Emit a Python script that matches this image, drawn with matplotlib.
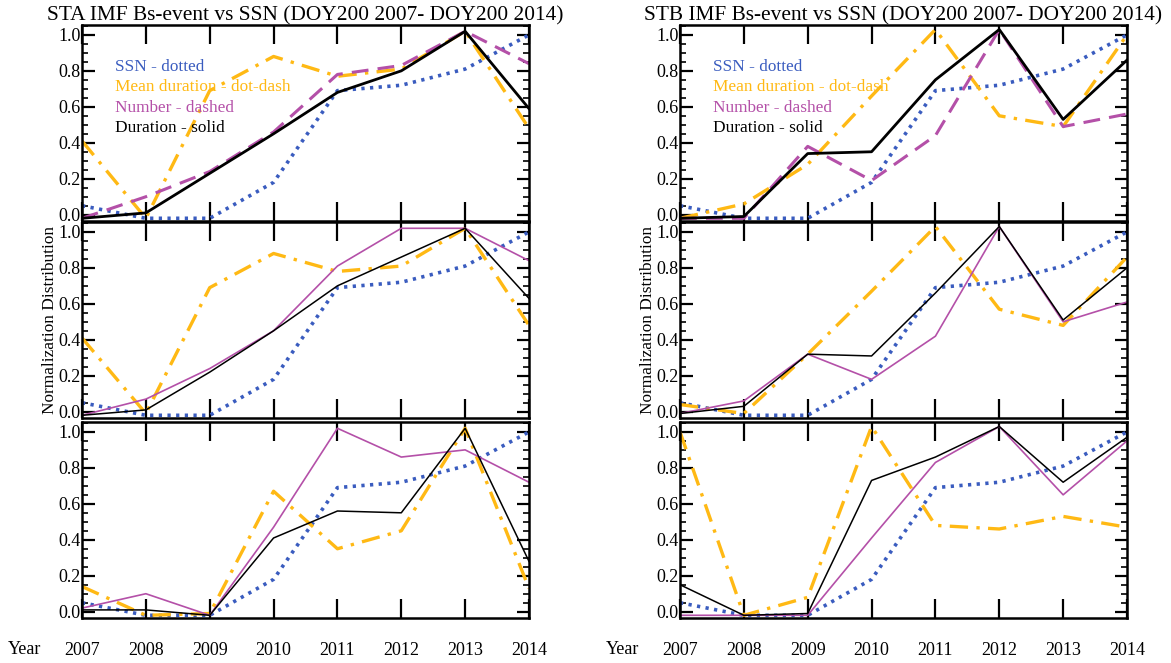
import numpy as np
import matplotlib.pyplot as plt
from matplotlib.ticker import MultipleLocator

plt.rcParams['font.family'] = ['Liberation Serif', 'DejaVu Serif']

years = [2007, 2008, 2009, 2010, 2011, 2012, 2013, 2014]
ssn = [0.05, -0.02, -0.02, 0.18, 0.69, 0.72, 0.81, 1.0]

# STA (left column), top to bottom
sta_mean_1 = [0.41, -0.02, 0.69, 0.88, 0.77, 0.81, 1.02, 0.48]
sta_num_1 = [-0.02, 0.10, 0.24, 0.46, 0.78, 0.83, 1.02, 0.84]
sta_dur_1 = [-0.02, 0.01, 0.23, 0.45, 0.68, 0.80, 1.02, 0.59]

sta_mean_2 = [0.41, -0.01, 0.69, 0.88, 0.78, 0.81, 1.02, 0.48]
sta_num_2 = [-0.02, 0.07, 0.24, 0.45, 0.81, 1.02, 1.02, 0.84]
sta_dur_2 = [-0.02, 0.01, 0.22, 0.45, 0.70, 0.86, 1.02, 0.63]

sta_mean_3 = [0.14, -0.02, -0.01, 0.67, 0.35, 0.45, 1.02, 0.13]
sta_num_3 = [0.02, 0.10, -0.02, 0.47, 1.02, 0.86, 0.90, 0.72]
sta_dur_3 = [0.01, 0.01, -0.02, 0.41, 0.56, 0.55, 1.02, 0.28]

# STB (right column), top to bottom
stb_mean_1 = [-0.02, 0.06, 0.28, 0.66, 1.03, 0.55, 0.49, 1.0]
stb_num_1 = [-0.02, -0.02, 0.38, 0.19, 0.44, 1.03, 0.49, 0.56]
stb_dur_1 = [-0.02, -0.01, 0.34, 0.35, 0.75, 1.03, 0.53, 0.86]

stb_mean_2 = [0.04, -0.01, 0.32, 0.67, 1.03, 0.57, 0.48, 0.86]
stb_num_2 = [-0.01, 0.06, 0.32, 0.18, 0.42, 1.03, 0.50, 0.61]
stb_dur_2 = [-0.01, 0.03, 0.32, 0.31, 0.66, 1.03, 0.51, 0.80]

stb_mean_3 = [1.0, -0.02, 0.08, 1.03, 0.48, 0.46, 0.53, 0.47]
stb_num_3 = [-0.02, -0.02, -0.02, 0.41, 0.83, 1.03, 0.65, 0.95]
stb_dur_3 = [0.15, -0.02, -0.01, 0.73, 0.86, 1.03, 0.72, 0.97]

titles = ['STA IMF Bs-event vs SSN (DOY200 2007- DOY200 2014)',
          'STB IMF Bs-event vs SSN (DOY200 2007- DOY200 2014)']
legend_lines = ['SSN - dotted', 'Mean duration - dot-dash',
                'Number - dashed', 'Duration - solid']

BLUE = '#3a5cbf'
ORANGE = '#ffb914'
MAGENTA = '#b450a8'

W, H = 1171, 663
fig = plt.figure(figsize=(W / 100, H / 100), dpi=100)

cols = [
    (82, [(sta_mean_1, sta_num_1, sta_dur_1),
          (sta_mean_2, sta_num_2, sta_dur_2),
          (sta_mean_3, sta_num_3, sta_dur_3)]),
    (680, [(stb_mean_1, stb_num_1, stb_dur_1),
           (stb_mean_2, stb_num_2, stb_dur_2),
           (stb_mean_3, stb_num_3, stb_dur_3)]),
]
tops = [25, 222, 422]
pw, ph = 447, 196

for c, (x0, panels) in enumerate(cols):
    for r, (mean_d, num, dur) in enumerate(panels):
        ax = fig.add_axes([x0 / W, 1 - (tops[r] + ph) / H, pw / W, ph / H])
        top = r == 0
        ax.plot(years, ssn, color=BLUE, lw=2.6, linestyle=(0, (0.9, 1.5)),
                dash_capstyle='butt')
        ax.plot(years, mean_d, color=ORANGE, lw=2.4,
                linestyle=(0, (5.5, 2.5, 1, 2.5)))
        if top:
            ax.plot(years, num, color=MAGENTA, lw=2.2, linestyle=(0, (5.5, 3)))
            ax.plot(years, dur, color='black', lw=2.0)
        else:
            ax.plot(years, num, color=MAGENTA, lw=1.2)
            ax.plot(years, dur, color='black', lw=1.1)

        ax.set_xlim(2007, 2014)
        ax.set_ylim(-0.035, 1.055)
        ax.set_xticks(years)
        ax.yaxis.set_major_locator(MultipleLocator(0.2))
        ax.yaxis.set_minor_locator(MultipleLocator(0.05))
        ax.set_yticklabels([f'{v:.1f}' for v in ax.get_yticks()])
        ax.tick_params(axis='x', which='major', direction='in', length=14,
                       width=1.6, top=True, labelbottom=(r == 2), pad=17,
                       labelsize=13)
        ax.tick_params(axis='y', which='major', direction='in', length=9,
                       width=1.6, right=True, labelsize=13, pad=1)
        ax.tick_params(axis='y', which='minor', direction='in', length=4.5,
                       width=1.2, right=True)
        for s in ax.spines.values():
            s.set_linewidth(1.8)

        if top:
            ax.set_title(titles[c], fontsize=15.4, pad=3)
            for i, (txt, col) in enumerate(zip(legend_lines,
                                               [BLUE, ORANGE, MAGENTA, 'black'])):
                ax.text(0.073, 0.785 - i * 0.103, txt, color=col, fontsize=12.4,
                        transform=ax.transAxes, va='center')
        if r == 1:
            ax.set_ylabel('Normalization Distribution', fontsize=12.4, labelpad=0)
        if r == 2:
            fig.text((x0 - 57) / W, 1 - 650 / H, 'Year', fontsize=13,
                     ha='center', va='center')

fig.savefig('out.png', dpi=100)
